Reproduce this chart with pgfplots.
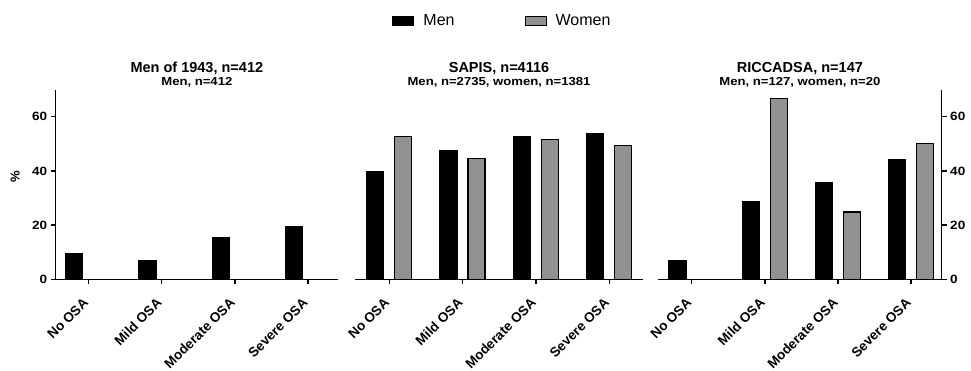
\documentclass[border=0pt]{standalone}
\usepackage{pgfplots}
\pgfplotsset{compat=1.18}
\usepackage{fontspec}
\setmainfont{Liberation Sans}
\newfontfamily\widefont[FakeStretch=1.13]{Liberation Sans}
\definecolor{womengray}{RGB}{145,145,145}

\pgfplotsset{
  osabase/.style={
    scale only axis, height=189.7pt, ymin=0, ymax=70,
    xtick={0,1,2,3}, xticklabels={No OSA, Mild OSA, Moderate OSA, Severe OSA},
    ytick={0,20,40,60},
    axis line style={line width=1.5pt},
    major tick style={line width=1.5pt, black},
    major tick length=5pt,
    tick align=outside,
    xticklabel style={xshift=-6pt, yshift=-12.5pt, rotate=45, anchor=north east, inner sep=0pt,
      font=\fontsize{13.5}{15}\selectfont\bfseries},
    yticklabel style={font=\widefont\fontsize{12}{14}\selectfont\bfseries},
    /pgf/number format/assume math mode=true,
    clip=false,
  },
  menbar/.style={ybar, bar width=17pt, bar shift=-14pt, fill=black, draw=black, line width=1.3pt},
  womenbar/.style={ybar, bar width=17pt, bar shift=14pt, fill=womengray, draw=black, line width=1.3pt},
}
\tikzset{
  ttl/.style={font=\fontsize{14.5}{17}\selectfont\bfseries, anchor=base},
  subttl/.style={font=\widefont\fontsize{11.6}{13}\selectfont\bfseries, anchor=base},
}

\begin{document}
\begin{tikzpicture}
\path[use as bounding box] (0pt,0pt) rectangle (971pt,371pt);

% Panel 1
\begin{axis}[osabase, at={(55.7pt,91.7pt)}, anchor=south west, width=282.3pt,
  xmin=-0.445, xmax=3.41,
  axis x line*=bottom, axis y line*=left,
  ylabel={\%}, ylabel style={font=\fontsize{13}{15}\selectfont\bfseries, at={(axis description cs:-0.144,0.54)}, anchor=center, rotate=0},
]
\addplot[menbar] coordinates {(0,9.4) (1,7.0) (2,15.3) (3,19.3)};
\node[ttl] at (rel axis cs:0.5,1) [yshift=17pt] {Men of 1943, n=412};
\node[subttl] at (rel axis cs:0.5,1) [yshift=4pt] {Men, n=412};
\end{axis}

% Panel 2
\begin{axis}[osabase, at={(355pt,91.7pt)}, anchor=south west, width=288pt,
  xmin=-0.468, xmax=3.46,
  axis x line*=bottom, axis y line=none,
  legend columns=2,
  legend style={draw=none, fill=none, at={(0.512,1.3616)}, anchor=center,
    font=\fontsize{16}{18}\selectfont,
    /tikz/every odd column/.append style={column sep=7pt},
    /tikz/every even column/.append style={column sep=68pt}},
  legend image code/.code={\draw[#1, line width=1pt] (0pt,-4.5pt) rectangle (21pt,4.5pt);},
]
\addplot[menbar] coordinates {(0,39.8) (1,47.6) (2,52.6) (3,53.6)};
\addlegendentry{Men}
\addplot[womenbar] coordinates {(0,52.6) (1,44.6) (2,51.7) (3,49.5)};
\addlegendentry{Women}
\node[ttl] at (rel axis cs:0.5,1) [yshift=17pt] {SAPIS, n=4116};
\node[subttl] at (rel axis cs:0.5,1) [yshift=4pt] {Men, n=2735, women, n=1381};
\end{axis}

% Panel 3
\begin{axis}[osabase, at={(658pt,91.7pt)}, anchor=south west, width=283.7pt,
  xmin=-0.46, xmax=3.42,
  axis x line*=bottom, axis y line*=right,
]
\addplot[menbar] coordinates {(0,6.8) (1,28.7) (2,35.6) (3,44.2)};
\addplot[womenbar] coordinates {(0,0) (1,66.8) (2,24.8) (3,50.1)};
\node[ttl] at (rel axis cs:0.5,1) [yshift=17pt] {RICCADSA, n=147};
\node[subttl] at (rel axis cs:0.5,1) [yshift=4pt] {Men, n=127, women, n=20};
\end{axis}
\end{tikzpicture}
\end{document}
